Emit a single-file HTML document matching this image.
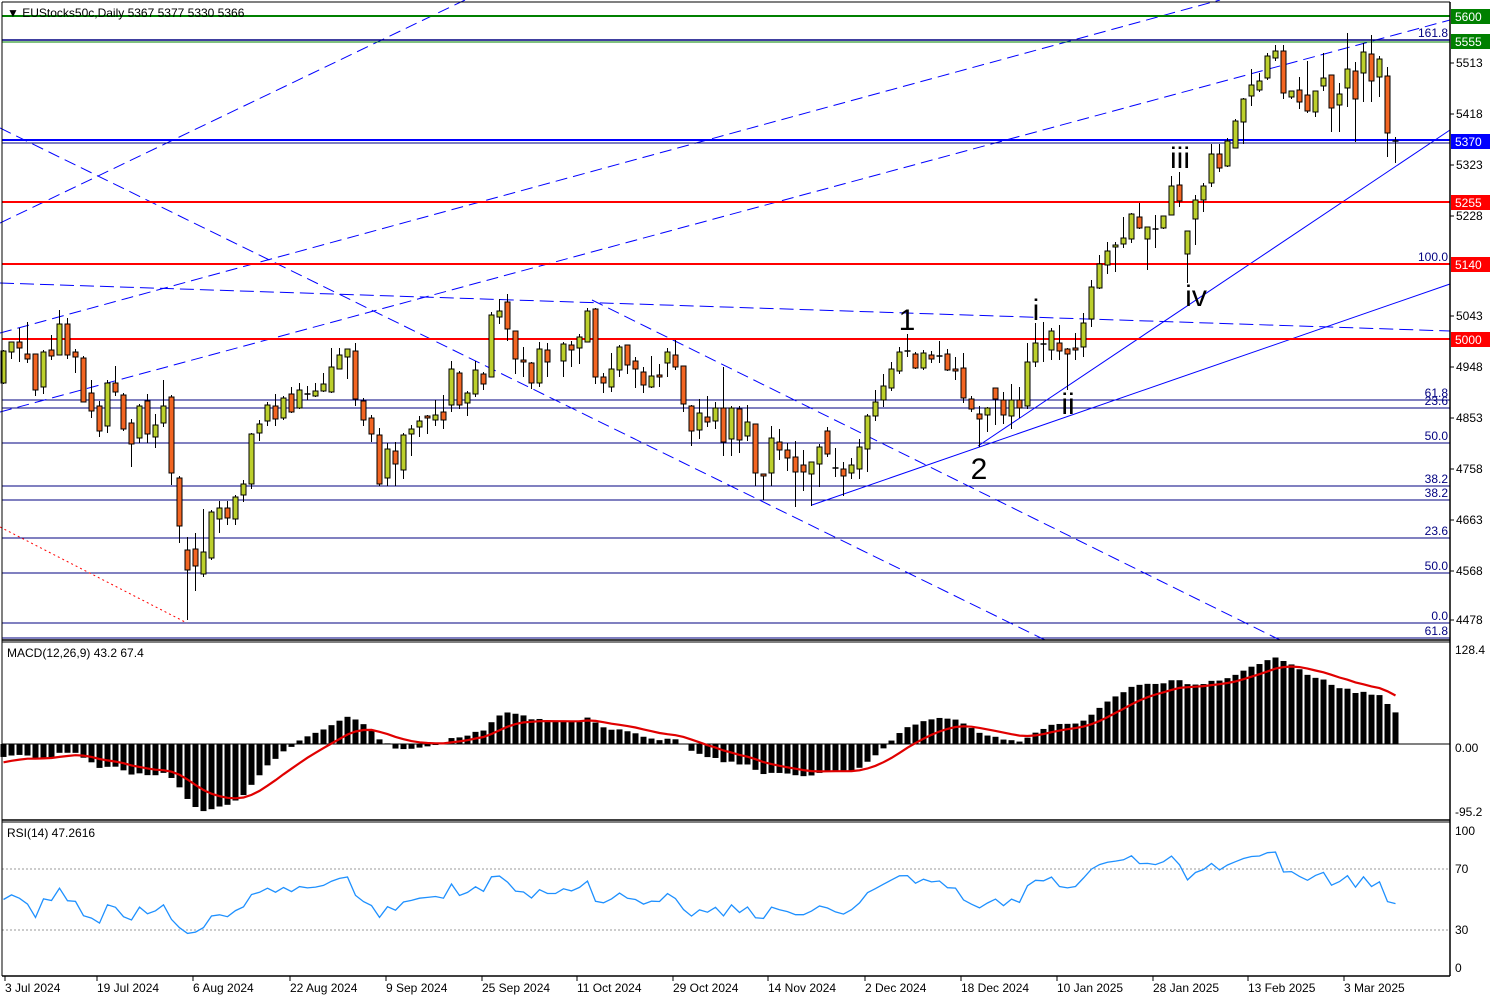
<!DOCTYPE html>
<html><head><meta charset="utf-8"><style>
html,body{margin:0;padding:0;background:#fff}
svg{display:block;font-family:"Liberation Sans",sans-serif}
</style></head><body>
<svg id="c" width="1500" height="1000" viewBox="0 0 1500 1000" xmlns="http://www.w3.org/2000/svg">
<rect width="1500" height="1000" fill="#fff"/>
<g id="lines"></g>
<g id="candles"></g>
<g id="macd"></g>
<g id="rsi"></g>
<g id="txt"></g>
</svg>
<script>
const NS="http://www.w3.org/2000/svg";
function el(p,t,a,tx){const e=document.createElementNS(NS,t);for(const k in a)e.setAttribute(k,a[k]);if(tx!==undefined)e.textContent=tx;document.getElementById(p).appendChild(e);return e;}
function ln(p,x1,y1,x2,y2,c,w,d){const a={x1,y1,x2,y2,stroke:c,'stroke-width':w||1};if(d)a['stroke-dasharray']=d;return el(p,'line',a);}
function tx(x,y,s,size,col,anchor){return el('txt','text',{x,y,'font-size':size||12,fill:col||'#000','text-anchor':anchor||'start'},s);}
const R=1450;
// fib lines navy
[[400,'61.8'],[408,'23.6'],[443,'50.0'],[486,'38.2'],[500,'38.2'],[538,'23.6'],[573,'50.0'],[623,'0.0'],[638,'61.8']].forEach(f=>{ln('lines',2,f[0],R,f[0],'#000080',1);tx(1448,f[0]-3,f[1],12,'#000080','end');});
tx(1448,37,'161.8',12,'#000080','end');tx(1448,261,'100.0',12,'#000080','end');
// dashed trend lines
ln('lines',0,223,465,0,'#0000ff',1,'12 6');
ln('lines',0,333,1220,0,'#0000ff',1,'12 6');
ln('lines',0,412,1450,20,'#0000ff',1,'12 6');
ln('lines',0,128,1045,640,'#0000ff',1,'12 6');
ln('lines',592,300,1280,640,'#0000ff',1,'12 6');
ln('lines',0,283,1450,331,'#0000ff',1,'14 6');
ln('lines',0,527,187,623,'#ff0000',1,'2 3');
ln('lines',812,505,1450,284,'#0000ff',1);
ln('lines',978,446,1450,130,'#0000ff',1);
// horizontal levels
ln('lines',2,16,R,16,'#008000',2);
ln('lines',2,40,R,40,'#000080',1.5);ln('lines',2,42,R,42,'#008000',1);
ln('lines',2,140,R,140,'#0000ff',2);ln('lines',2,143,R,143,'#000080',1);
ln('lines',2,202,R,202,'#ff0000',2);
ln('lines',2,264,R,264,'#ff0000',2);
ln('lines',2,339,R,339,'#ff0000',2);
const D=[[383,351,350,384],[352,342,342,359],[342,348,328,362],[354,359,322,363],[354,390,354,396],[387,352,350,394],[350,356,335,360],[355,324,310,355],[324,355,318,359],[352,357,349,373],[358,402,356,402],[393,411,380,418],[406,431,401,437],[426,383,380,433],[383,392,366,396],[395,429,393,431],[423,444,419,467],[438,406,404,443],[401,434,394,443],[437,425,414,448],[423,406,380,427],[397,473,395,485],[478,526,476,543],[550,570,537,620],[549,566,533,591],[574,552,509,577],[558,512,510,560],[519,508,501,533],[508,518,501,525],[519,497,495,525],[495,484,480,502],[484,434,433,489],[433,424,420,441],[421,405,402,426],[406,419,394,426],[418,398,396,420],[394,412,387,413],[408,390,383,409],[394,394,386,400],[396,391,383,397],[391,384,373,392],[392,367,348,393],[369,355,348,369],[357,349,349,379],[351,399,343,406],[401,420,398,426],[418,434,415,442],[435,484,428,486],[478,449,443,486],[451,464,442,486],[470,435,433,479],[434,429,425,456],[427,421,416,437],[416,418,415,434],[420,415,400,426],[412,420,395,429],[405,369,361,412],[373,405,371,409],[403,393,391,416],[394,370,361,397],[374,384,372,390],[377,315,312,377],[317,311,299,324],[302,329,294,341],[331,359,331,374],[360,362,347,377],[363,383,362,389],[383,349,342,387],[350,362,343,377],null,[361,344,342,377],[345,350,341,367],[348,337,334,364],[342,311,308,342],[309,377,308,384],[377,383,373,393],[387,369,353,392],[370,347,345,377],[345,365,345,374],[361,369,357,388],[372,385,367,393],[387,376,356,388],[375,377,364,387],[363,352,348,377],[355,367,340,370],[366,404,366,412],[406,431,405,446],[430,413,399,439],[417,422,396,427],[421,408,402,429],[408,442,367,456],[439,408,406,456],[409,440,406,453],[436,422,405,441],[424,473,424,486],[474,476,474,500],[473,438,426,486],[442,450,429,460],[450,458,443,471],[457,472,441,507],[465,472,450,491],[474,462,462,506],[464,447,444,487],[431,454,427,457],[468,468,448,477],[469,476,462,496],[473,465,458,479],[469,447,439,479],[449,416,414,472],[416,402,390,421],[400,386,374,407],[388,369,362,391],[371,352,347,374],[351,351,334,357],[354,368,352,369],[368,353,350,370],[355,359,351,363],[356,356,341,363],[354,370,349,371],[369,371,357,380],[368,398,353,403],[399,409,396,412],[414,419,406,447],[415,408,407,432],[388,399,388,425],[400,415,392,424],[416,400,384,429],[400,408,387,418],[406,362,343,409],[362,343,323,367],[344,344,322,362],[350,331,328,360],[343,351,325,360],[349,354,348,390],[348,350,333,360],[347,323,313,357],[319,287,280,327],[288,264,255,289],[265,251,242,274],[247,245,242,272],[244,238,217,248],[239,214,213,243],[217,228,203,229],[239,227,227,270],[229,229,215,248],[228,216,216,229],[215,186,176,215],[185,201,172,207],[254,231,231,283],[219,200,195,245],[200,186,183,212],[183,154,144,187],[154,168,144,172],[166,141,138,167],[148,121,119,145],[122,99,98,144],[96,85,69,106],[90,81,73,92],[78,56,53,80],[58,51,45,61],[51,93,45,99],[97,91,91,99],[90,102,77,109],[95,111,61,113],[112,91,91,117],[86,78,53,91],[75,108,75,132],[105,94,83,132],[88,69,33,107],[71,99,62,142],[73,52,43,102],[54,81,35,102],[77,59,56,97],[76,133,67,157],[141,142,137,163]];
const X=i=>3.5+8*i;
const closes=[];
D.forEach((d,i)=>{if(!d){closes.push(closes[closes.length-1]);return;}
 const x=X(i);const [o,c,h,l]=d;
 ln('candles',x,h,x,l,'#000',1);
 const top=Math.min(o,c),bot=Math.max(o,c);
 if(bot-top<1.5){ln('candles',x-3,top,x+3,top,'#000',1.5);}
 else el('candles','rect',{x:x-2.5,y:top,width:5,height:bot-top,fill:c<o?'#bccf2c':'#f26522',stroke:'#000','stroke-width':1});
 closes.push(5513-(c-63)/0.5382);
});
// MACD
let e12=closes[0]+8,e26=closes[0]+25,sig=-25;const k12=2/13,k26=2/27,k9=2/10;
const mv=[],sv=[];
closes.forEach((c,i)=>{if(i>0){e12=c*k12+e12*(1-k12);e26=c*k26+e26*(1-k26);}const m=e12-e26;if(i>0)sig=m*k9+sig*(1-k9);mv.push(m);sv.push(sig);});
const MY=v=>744-v*0.732;
mv.forEach((m,i)=>{const y=MY(m);el('macd','rect',{x:X(i)-3,y:Math.min(y,744),width:6,height:Math.abs(y-744)+0.5,fill:'#000'});});
ln('macd',2,744,R,744,'#000',1);
el('macd','polyline',{points:sv.map((s,i)=>X(i)+','+MY(s).toFixed(1)).join(' '),fill:'none',stroke:'#e00000','stroke-width':2.2});
// RSI
let ag=10,al=10;const rv=[50];
for(let i=1;i<closes.length;i++){const d=closes[i]-closes[i-1];ag=(ag*13+Math.max(d,0))/14;al=(al*13+Math.max(-d,0))/14;rv.push(100-100/(1+ag/al));}
const RY=v=>869+(70-v)*1.525;
ln('rsi',2,869,R,869,'#999',1,'2 2');ln('rsi',2,930,R,930,'#999',1,'2 2');
el('rsi','polyline',{points:rv.map((r,i)=>X(i)+','+RY(r).toFixed(1)).join(' '),fill:'none',stroke:'#1e90ff','stroke-width':1.3});
// frames
ln('txt',2,2,R,2,'#000',1);ln('txt',2,2,2,976,'#000',1);ln('txt',R,2,R,976,'#000',1.5);
ln('txt',2,640,R,640,'#000',1.5);ln('txt',2,642,R,642,'#000',1);
ln('txt',2,820,R,820,'#000',1.5);ln('txt',2,822,R,822,'#000',1);
ln('txt',2,976,R,976,'#000',1.5);
tx(7,17,'\u25BC EUStocks50c,Daily  5367 5377 5330 5366',12);
tx(7,657,'MACD(12,26,9) 43.2 67.4',12);
tx(7,837,'RSI(14) 47.2616',12);
// price axis
[[63,'5513'],[114,'5418'],[165,'5323'],[216,'5228'],[316,'5043'],[367,'4948'],[418,'4853'],[469,'4758'],[520,'4663'],[571,'4568'],[620,'4478']].forEach(a=>{ln('txt',R,a[0],R+4,a[0],'#000',1);tx(1456,a[0]+4,a[1],12);});
[[16,'5600','#008000'],[41,'5555','#008000'],[141,'5370','#0000ff'],[202,'5255','#ff0000'],[264,'5140','#ff0000'],[339,'5000','#ff0000']].forEach(a=>{el('txt','rect',{x:1451,y:a[0]-7,width:39,height:15,fill:a[2]});tx(1455,a[0]+5,a[1],12,'#fff');});
[[650,'128.4'],[748,'0.00'],[812,'-95.2']].forEach(a=>tx(1455,a[0]+4,a[1],12));
[[831,'100'],[869,'70'],[930,'30'],[968,'0']].forEach(a=>{tx(1455,a[0]+4,a[1],12);});
// date axis
[[5,'3 Jul 2024'],[97,'19 Jul 2024'],[193,'6 Aug 2024'],[290,'22 Aug 2024'],[386,'9 Sep 2024'],[482,'25 Sep 2024'],[577,'11 Oct 2024'],[673,'29 Oct 2024'],[768,'14 Nov 2024'],[865,'2 Dec 2024'],[961,'18 Dec 2024'],[1057,'10 Jan 2025'],[1153,'28 Jan 2025'],[1248,'13 Feb 2025'],[1344,'3 Mar 2025']].forEach(a=>{ln('txt',a[0],976,a[0],981,'#000',1);tx(a[0],992,a[1],12);});
// wave labels
[[907,330,'1'],[979,479,'2'],[1036,320,'i'],[1068,414,'ii'],[1180,168,'iii'],[1196,306,'iv']].forEach(a=>tx(a[0],a[1],a[2],30,'#000','middle'));
</script>
</body></html>
